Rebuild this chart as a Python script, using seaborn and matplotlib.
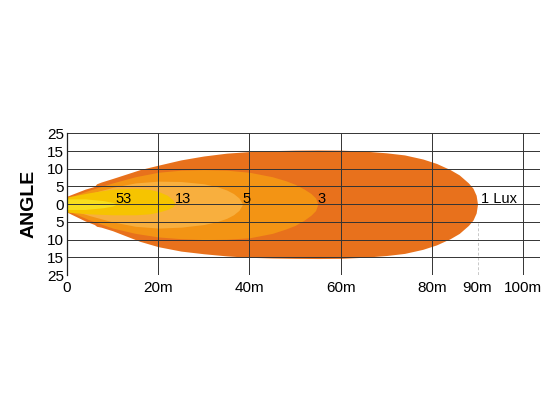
import seaborn as sns
import matplotlib.pyplot as plt

# Beam zones: distance (m) and upper/lower half-widths (grid rows)
lux_1_x = [0, 2, 4, 6, 6.5, 7.5, 10, 13, 16, 20, 25, 30, 35, 40, 45, 50, 55, 60,
           65, 70, 74, 78, 81, 84, 86, 88, 89, 89.7, 90]
lux_1_top = [0.45, 0.65, 0.85, 1.0, 1.15, 1.25, 1.45, 1.7, 1.95, 2.2, 2.5, 2.72, 2.88, 2.97, 3.02, 3.05, 3.06, 3.05,
             3.0, 2.9, 2.78, 2.55, 2.3, 1.95, 1.65, 1.2, 0.9, 0.5, 0]
lux_1_bot = [-0.45, -0.7, -0.95, -1.15, -1.25, -1.3, -1.5, -1.8, -2.1, -2.4, -2.65, -2.8, -2.92, -3.0, -3.04, -3.06, -3.07, -3.06,
             -3.0, -2.9, -2.78, -2.55, -2.3, -1.95, -1.65, -1.2, -0.9, -0.5, 0]

lux_3_x = [0, 5, 10, 15, 20, 25, 30, 35, 40, 45, 48, 50, 52, 53.5, 54.5, 55]
lux_3_top = [0.35, 0.8, 1.2, 1.55, 1.8, 1.92, 1.95, 1.92, 1.8, 1.55, 1.32, 1.12, 0.85, 0.6, 0.35, 0]
lux_3_bot = [-0.35, -0.9, -1.35, -1.65, -1.85, -1.95, -2.0, -1.98, -1.9, -1.65, -1.4, -1.2, -0.9, -0.62, -0.36, 0]

lux_5_x = [0, 5, 10, 15, 20, 25, 30, 33, 35, 36.5, 37.7, 38.5]
lux_5_top = [0.25, 0.6, 0.95, 1.2, 1.3, 1.28, 1.15, 0.98, 0.8, 0.6, 0.35, 0]
lux_5_bot = [-0.25, -0.65, -1.0, -1.25, -1.35, -1.3, -1.15, -0.98, -0.8, -0.6, -0.35, 0]

lux_13_x = [0, 5, 10, 15, 18, 20, 22, 23.2, 23.7]
lux_13_top = [0.4, 0.65, 0.85, 0.9, 0.84, 0.72, 0.5, 0.25, 0]
lux_13_bot = [-0.45, -0.55, -0.6, -0.6, -0.55, -0.45, -0.3, -0.15, 0]

lux_53_x = [0, 4, 8, 10, 11]
lux_53_top = [0.3, 0.3, 0.2, 0.1, 0]
lux_53_bot = [-0.3, -0.3, -0.2, -0.1, 0]

zone_colors = ["#E8711C", "#F39414", "#F8AF3E", "#F6C400", "#F8DE1E"]

labels = ["53", "13", "5", "3"]
label_x = [12.3, 25.5, 39.3, 55.8]

y_labels = ["25", "15", "10", "5", "0", "5", "10", "15", "25"]
x_ticks = [0, 20, 40, 60, 80, 90, 100]
x_labels = ["0", "20m", "40m", "60m", "80m", "90m", "100m"]

sns.set_style("white")
plt.rcParams["font.family"] = ["Liberation Sans", "DejaVu Sans"]
plt.rcParams["text.color"] = "black"
plt.rcParams["xtick.color"] = "black"
plt.rcParams["ytick.color"] = "black"
plt.rcParams["axes.labelcolor"] = "black"

fig = plt.figure(figsize=(5.6, 4.2), dpi=100)
ax = fig.add_axes([0.1196, 0.3452, 0.9643 - 0.1196, 0.6826 - 0.3452])

zones = [
    (lux_1_x, lux_1_top, lux_1_bot),
    (lux_3_x, lux_3_top, lux_3_bot),
    (lux_5_x, lux_5_top, lux_5_bot),
    (lux_13_x, lux_13_top, lux_13_bot),
    (lux_53_x, lux_53_top, lux_53_bot),
]
for (zx, zt, zb), c in zip(zones, zone_colors):
    ax.fill_between(zx, zb, zt, color=c, linewidth=0, zorder=1)

# grid drawn over the beam
for r in range(-4, 5):
    ax.axhline(r, color="#333333", lw=0.7, zorder=3)
for v in [20, 40, 60, 80, 100]:
    ax.axvline(v, color="#333333", lw=0.7, zorder=3)
ax.plot([90, 90], [-1.05, -4], color="#c8c8c8", lw=0.7, ls=(0, (3, 2)), zorder=2)

for t, lx in zip(labels, label_x):
    ax.text(lx, 0.3, t, ha="center", va="center", fontsize=10.5, zorder=4)
ax.text(90.8, 0.3, "1 Lux", ha="left", va="center", fontsize=10.5, zorder=4)

ax.set_xlim(0, 103.7)
ax.set_ylim(-4, 4)
ax.set_yticks(range(4, -5, -1))
ax.set_yticklabels(y_labels, fontsize=11)
ax.set_xticks(x_ticks)
ax.set_xticklabels(x_labels, fontsize=11)
ax.tick_params(axis="both", length=0)
ax.tick_params(axis="y", pad=2)
ax.tick_params(axis="x", pad=4)

for s in ["top", "right", "bottom"]:
    ax.spines[s].set_visible(False)
ax.spines["left"].set_color("#222222")
ax.spines["left"].set_linewidth(0.9)
ax.spines["left"].set_zorder(5)

ax.set_ylabel("ANGLE", fontsize=14, fontweight="bold", labelpad=7)

plt.savefig("out.png", dpi=100)
